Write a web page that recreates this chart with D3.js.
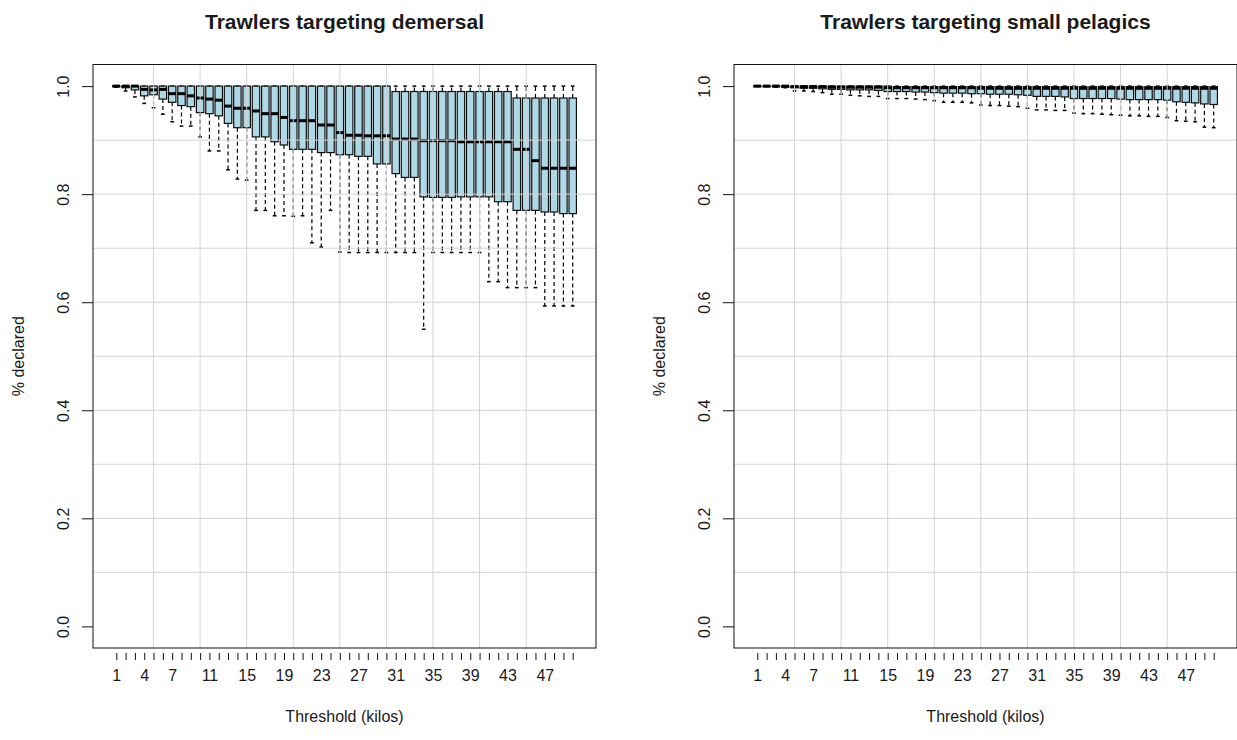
<!DOCTYPE html>
<html>
<head>
<meta charset="utf-8">
<script src="https://cdn.jsdelivr.net/npm/d3@7"></script>
<style>
  body { margin: 0; background: #fff; }
  svg text { font-family: "Liberation Sans", Arial, sans-serif; fill: #1a1a1a; }
</style>
</head>
<body>
<svg id="chart" width="1237" height="740"></svg>
<script>
// categories: threshold in kilos
const thresholds = [1, 2, 3, 4, 5, 6, 7, 8, 9, 10, 11, 12, 13, 14, 15, 16, 17, 18, 19, 20,
  21, 22, 23, 24, 25, 26, 27, 28, 29, 30, 31, 32, 33, 34, 35, 36, 37, 38, 39, 40,
  41, 42, 43, 44, 45, 46, 47, 48, 49, 50];
const xLabels = [1, 4, 7, 11, 15, 19, 23, 27, 31, 35, 39, 43, 47];
const yTicks = [0, 0.2, 0.4, 0.6, 0.8, 1.0];
const gridX = [5, 10, 15, 20, 25, 30, 35, 40, 45];
const gridY = [0.1, 0.2, 0.3, 0.4, 0.5, 0.6, 0.7, 0.8, 0.9];

// Trawlers targeting demersal
const demLow = [0.998, 0.991, 0.980, 0.968, 0.960, 0.948, 0.934, 0.926, 0.926, 0.906,
  0.880, 0.880, 0.845, 0.828, 0.826, 0.770, 0.770, 0.760, 0.760, 0.759,
  0.760, 0.710, 0.702, 0.770, 0.693, 0.692, 0.692, 0.692, 0.692, 0.692,
  0.692, 0.692, 0.692, 0.550, 0.692, 0.692, 0.692, 0.692, 0.692, 0.692,
  0.638, 0.638, 0.627, 0.627, 0.627, 0.627, 0.593, 0.593, 0.593, 0.593];
const demQ1 = [0.999, 0.997, 0.993, 0.982, 0.984, 0.976, 0.970, 0.964, 0.962, 0.951,
  0.949, 0.945, 0.931, 0.923, 0.923, 0.906, 0.906, 0.897, 0.891, 0.883,
  0.883, 0.883, 0.877, 0.877, 0.873, 0.873, 0.870, 0.870, 0.856, 0.856,
  0.838, 0.831, 0.831, 0.795, 0.794, 0.794, 0.794, 0.795, 0.795, 0.795,
  0.795, 0.786, 0.786, 0.770, 0.770, 0.770, 0.767, 0.767, 0.764, 0.764];
const demMed = [1.000, 1.000, 1.000, 0.994, 0.993, 0.994, 0.986, 0.986, 0.982, 0.978,
  0.976, 0.974, 0.963, 0.959, 0.959, 0.954, 0.949, 0.949, 0.942, 0.936,
  0.936, 0.936, 0.928, 0.928, 0.914, 0.909, 0.909, 0.908, 0.908, 0.908,
  0.902, 0.902, 0.902, 0.899, 0.899, 0.899, 0.899, 0.897, 0.897, 0.897,
  0.897, 0.897, 0.897, 0.883, 0.883, 0.862, 0.848, 0.848, 0.848, 0.848];
const demQ3 = [1, 1, 1, 1, 1, 1, 1, 1, 1, 1,
  1, 1, 1, 1, 1, 1, 1, 1, 1, 1,
  1, 1, 1, 1, 1, 1, 1, 1, 1, 1,
  0.990, 0.990, 0.990, 0.990, 0.990, 0.990, 0.990, 0.990, 0.990, 0.990,
  0.990, 0.990, 0.990, 0.978, 0.978, 0.978, 0.978, 0.978, 0.978, 0.978];
const demHigh = [1, 1, 1, 1, 1, 1, 1, 1, 1, 1,
  1, 1, 1, 1, 1, 1, 1, 1, 1, 1,
  1, 1, 1, 1, 1, 1, 1, 1, 1, 1,
  1, 1, 1, 1, 1, 1, 1, 1, 1, 1,
  1, 1, 1, 1, 1, 1, 1, 1, 1, 1];

// Trawlers targeting small pelagics
const pelLow = [1.000, 0.999, 0.998, 0.997, 0.991, 0.991, 0.990, 0.988, 0.985, 0.985,
  0.983, 0.982, 0.981, 0.981, 0.977, 0.977, 0.977, 0.976, 0.975, 0.973,
  0.970, 0.970, 0.970, 0.969, 0.965, 0.964, 0.964, 0.963, 0.962, 0.959,
  0.956, 0.956, 0.955, 0.955, 0.950, 0.949, 0.949, 0.948, 0.947, 0.946,
  0.945, 0.945, 0.944, 0.944, 0.942, 0.936, 0.935, 0.934, 0.924, 0.923];
const pelQ1 = [0.999, 0.999, 0.999, 0.998, 0.997, 0.996, 0.996, 0.995, 0.994, 0.994,
  0.993, 0.993, 0.993, 0.992, 0.990, 0.990, 0.990, 0.989, 0.989, 0.988,
  0.987, 0.987, 0.987, 0.986, 0.986, 0.985, 0.985, 0.985, 0.984, 0.983,
  0.981, 0.981, 0.981, 0.980, 0.977, 0.977, 0.977, 0.977, 0.977, 0.976,
  0.975, 0.975, 0.975, 0.975, 0.974, 0.971, 0.970, 0.969, 0.967, 0.966];
const pelMed = [1.000, 1.000, 1.000, 1.000, 0.999, 0.999, 0.999, 0.999, 0.998, 0.998,
  0.998, 0.998, 0.998, 0.998, 0.997, 0.997, 0.997, 0.997, 0.997, 0.997,
  0.997, 0.997, 0.997, 0.997, 0.996, 0.996, 0.996, 0.996, 0.996, 0.996,
  0.996, 0.996, 0.996, 0.996, 0.996, 0.996, 0.996, 0.996, 0.996, 0.996,
  0.996, 0.996, 0.996, 0.996, 0.996, 0.996, 0.996, 0.996, 0.996, 0.996];
const pelQ3 = [1, 1, 1, 1, 1, 1, 1, 1, 1, 1,
  1, 1, 1, 1, 1, 0.999, 0.999, 0.999, 0.999, 0.999,
  0.999, 0.999, 0.999, 0.999, 0.999, 0.999, 0.999, 0.999, 0.999, 0.999,
  0.999, 0.999, 0.999, 0.999, 0.999, 0.999, 0.999, 0.999, 0.999, 0.999,
  0.999, 0.999, 0.999, 0.999, 0.999, 0.999, 0.999, 0.999, 0.999, 0.999];
const pelHigh = demHigh;

const svg = d3.select('#chart');

function drawPanel(left, title, low, q1, med, q3, high) {
  const right = left + 503;
  const top = 64.5, bottom = 648;

  const x = d3.scaleLinear().domain([-1.5, 52.5]).range([left, right]);
  const y = d3.scaleLinear().domain([-0.04, 1.04]).range([bottom, top]);
  const boxW = x(0.8) - x(0);
  const capW = x(0.4) - x(0);

  const g = svg.append('g');

  const boxes = thresholds.map((t, i) => ({
    t, lo: low[i], q1: q1[i], med: med[i], q3: q3[i], hi: high[i]
  }));

  const b = g.selectAll('g.box').data(boxes).join('g').attr('class', 'box');

  // whiskers (dashed)
  b.append('line')
    .attr('x1', d => x(d.t)).attr('x2', d => x(d.t))
    .attr('y1', d => y(d.q1)).attr('y2', d => y(d.lo))
    .attr('stroke', '#000').attr('stroke-width', 1.2).attr('stroke-dasharray', '4,3');
  b.append('line')
    .attr('x1', d => x(d.t)).attr('x2', d => x(d.t))
    .attr('y1', d => y(d.q3)).attr('y2', d => y(d.hi))
    .attr('stroke', '#000').attr('stroke-width', 1.2).attr('stroke-dasharray', '4,3');
  // staples
  b.append('line')
    .attr('x1', d => x(d.t) - capW / 2).attr('x2', d => x(d.t) + capW / 2)
    .attr('y1', d => y(d.lo)).attr('y2', d => y(d.lo))
    .attr('stroke', '#000').attr('stroke-width', 1.5);
  b.append('line')
    .attr('x1', d => x(d.t) - capW / 2).attr('x2', d => x(d.t) + capW / 2)
    .attr('y1', d => y(d.hi)).attr('y2', d => y(d.hi))
    .attr('stroke', '#000').attr('stroke-width', 1.5);
  // box
  b.append('rect')
    .attr('x', d => x(d.t) - boxW / 2)
    .attr('width', boxW)
    .attr('y', d => y(d.q3))
    .attr('height', d => Math.max(0.5, y(d.q1) - y(d.q3)))
    .attr('fill', '#add8e6')
    .attr('stroke', '#111')
    .attr('stroke-width', 1.2);
  // median
  b.append('line')
    .attr('x1', d => x(d.t) - boxW / 2).attr('x2', d => x(d.t) + boxW / 2)
    .attr('y1', d => y(d.med)).attr('y2', d => y(d.med))
    .attr('stroke', '#000').attr('stroke-width', 3);

  // grid on top of the boxes
  const grid = g.append('g').attr('stroke', '#d3d3d3').attr('stroke-width', 1);
  grid.selectAll('line.v').data(gridX).join('line').attr('class', 'v')
    .attr('x1', d => x(d)).attr('x2', d => x(d))
    .attr('y1', top).attr('y2', bottom);
  grid.selectAll('line.h').data(gridY).join('line').attr('class', 'h')
    .attr('x1', left).attr('x2', right)
    .attr('y1', d => y(d)).attr('y2', d => y(d));

  // frame
  g.append('rect')
    .attr('x', left).attr('y', top)
    .attr('width', right - left).attr('height', bottom - top)
    .attr('fill', 'none').attr('stroke', '#111').attr('stroke-width', 1);

  // y axis
  const yAxis = g.append('g')
    .attr('transform', `translate(${left},0)`)
    .call(d3.axisLeft(y).tickValues(yTicks).tickSize(11).tickFormat(d3.format('.1f')));
  yAxis.select('.domain').remove();
  yAxis.selectAll('line').attr('stroke', '#111');
  yAxis.selectAll('text')
    .attr('x', 0).attr('y', -24).attr('dy', 0)
    .attr('text-anchor', 'middle')
    .attr('transform', 'rotate(-90)')
    .style('font-size', '16px');

  // x axis
  const xAxis = g.append('g')
    .attr('transform', `translate(0,${bottom + 5})`)
    .call(d3.axisBottom(x).tickValues(thresholds).tickSize(7).tickPadding(10)
      .tickFormat(d => xLabels.includes(d) ? d : ''));
  xAxis.select('.domain').remove();
  xAxis.selectAll('line').attr('stroke', '#111');
  xAxis.selectAll('text').style('font-size', '16px');

  const mid = (left + right) / 2;
  g.append('text')
    .attr('x', mid).attr('y', 29)
    .attr('text-anchor', 'middle')
    .style('font-size', '21px').style('font-weight', 'bold')
    .text(title);

  g.append('text')
    .attr('x', mid).attr('y', 722)
    .attr('text-anchor', 'middle')
    .style('font-size', '16px')
    .text('Threshold (kilos)');

  g.append('text')
    .attr('transform', `translate(${left - 69},${(top + bottom) / 2}) rotate(-90)`)
    .attr('text-anchor', 'middle')
    .style('font-size', '16px')
    .text('% declared');
}

drawPanel(93, 'Trawlers targeting demersal', demLow, demQ1, demMed, demQ3, demHigh);
drawPanel(734, 'Trawlers targeting small pelagics', pelLow, pelQ1, pelMed, pelQ3, pelHigh);
</script>
</body>
</html>
